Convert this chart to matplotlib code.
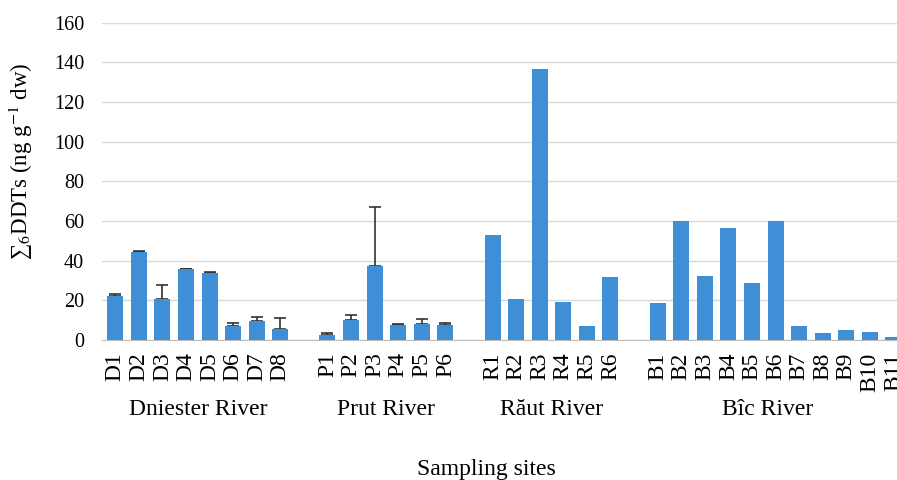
import numpy as np
import matplotlib
matplotlib.use('Agg')
import matplotlib.pyplot as plt

plt.rcParams['font.family'] = ['Liberation Serif', 'DejaVu Serif']
plt.rcParams['mathtext.fontset'] = 'stix'

# data
dniester = ['D1', 'D2', 'D3', 'D4', 'D5', 'D6', 'D7', 'D8']
dniester_val = [22.2, 44.5, 20.7, 35.6, 33.6, 7.1, 9.6, 5.5]
dniester_err = [1.2, 0.5, 7.0, 0.3, 0.5, 1.6, 2.2, 5.4]

prut = ['P1', 'P2', 'P3', 'P4', 'P5', 'P6']
prut_val = [2.7, 10.2, 37.3, 7.6, 8.1, 7.7]
prut_err = [1.0, 2.6, 30.0, 0.3, 2.7, 1.0]

raut = ['R1', 'R2', 'R3', 'R4', 'R5', 'R6']
raut_val = [52.9, 20.7, 136.7, 19.2, 7.2, 31.6]

bic = ['B1', 'B2', 'B3', 'B4', 'B5', 'B6', 'B7', 'B8', 'B9', 'B10', 'B11']
bic_val = [18.7, 59.9, 32.3, 56.3, 28.7, 60.2, 7.2, 3.7, 5.2, 4.2, 1.5]

rivers = ['Dniester River', 'Prut River', 'Răut River', 'Bîc River']

# one blank slot between rivers
groups = [(dniester, dniester_val, dniester_err),
          (prut, prut_val, prut_err),
          (raut, raut_val, None),
          (bic, bic_val, None)]

fig = plt.figure(figsize=(8.97, 4.8), dpi=100)
ax = fig.add_axes([0.114, 0.2917, 0.886, 0.661])

color = '#3f8fd6'
pos = 0
labels, ticks, centers = [], [], []
for names, vals, errs in groups:
    x = np.arange(pos, pos + len(names))
    if errs is not None:
        ax.errorbar(x, vals, yerr=[np.zeros(len(errs)), errs], fmt='none',
                    ecolor='#333333', elinewidth=1.2, capsize=4, capthick=1.2, zorder=2)
    ax.bar(x, vals, width=0.68, color=color, zorder=3)
    labels += names
    ticks += list(x)
    centers.append(x.mean())
    pos += len(names) + 1
centers[-1] -= 0.35

ax.set_xlim(-0.55, 33.15)
ax.set_ylim(0, 160)
ax.set_yticks(np.arange(0, 161, 20))
ax.set_xticks(ticks)
ax.set_xticklabels(labels, rotation=90, fontsize=17)
ax.tick_params(axis='y', labelsize=14.5, length=0, pad=13)
ax.tick_params(axis='x', length=0, pad=9)
ax.grid(axis='y', color='#d9d9d9', linewidth=1.0, zorder=0)
for s in ['top', 'right', 'left']:
    ax.spines[s].set_visible(False)
ax.spines['bottom'].set_color('#bfbfbf')
ax.spines['bottom'].set_zorder(2.5)

ax.set_ylabel('∑$_6$DDTs (ng g$^{-1}$ dw)', fontsize=16.5)
ax.yaxis.set_label_coords(-0.085, 0.565)

for c, name in zip(centers, rivers):
    ax.text(c, -35, name, ha='center', va='center', fontsize=17, clip_on=False)

fig.text(0.542, 0.021, 'Sampling sites', ha='center', va='center', fontsize=17)

fig.savefig('out.png', dpi=100)
